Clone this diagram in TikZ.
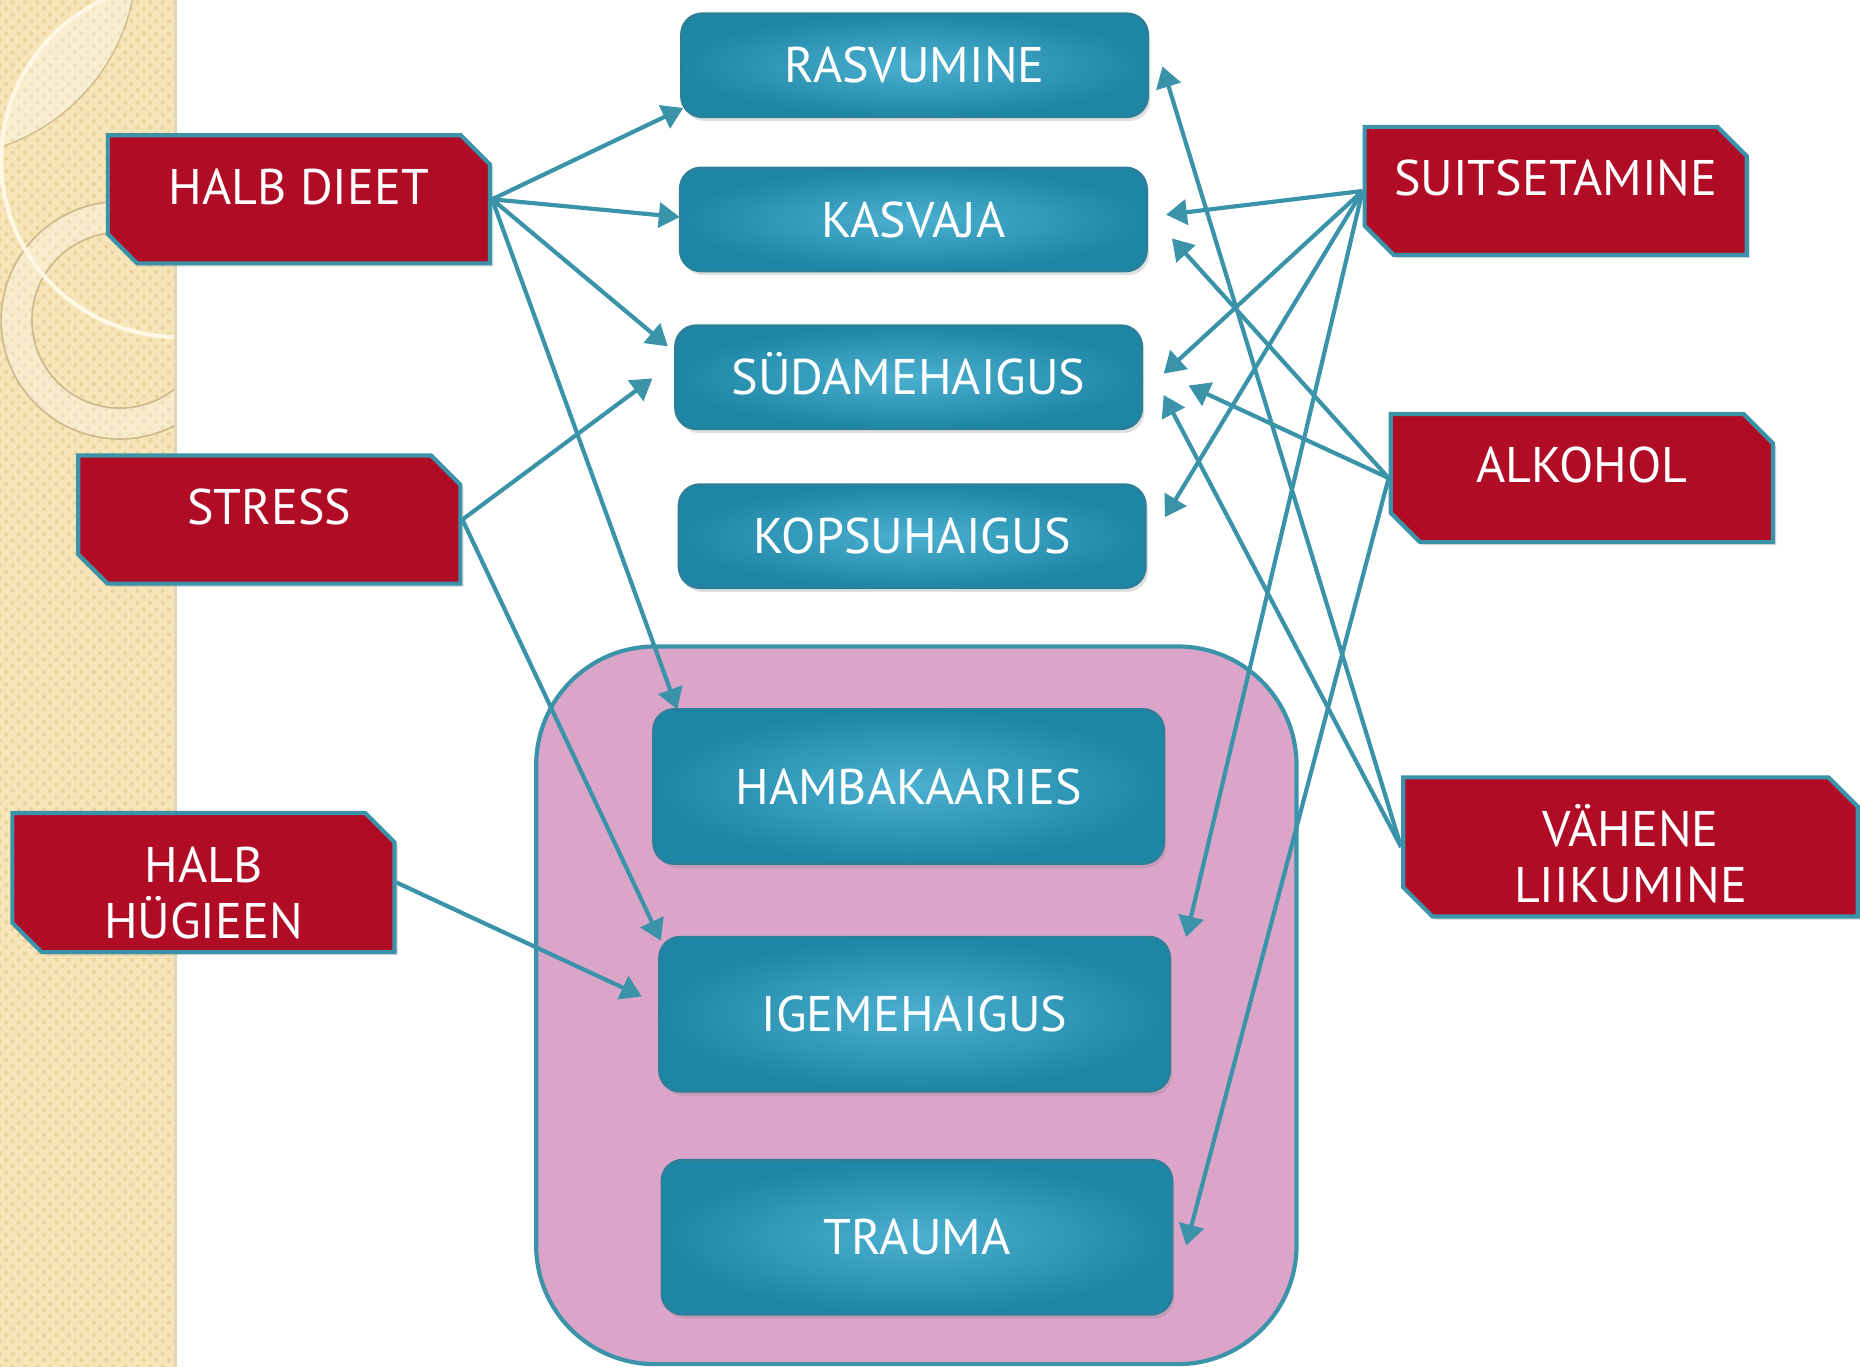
\documentclass[tikz,border=0pt]{standalone}
\usepackage{fontspec}
\setmainfont{PT Sans}
\usepackage{tikz}
\usetikzlibrary{arrows.meta,shapes.misc,shadows,patterns}

\definecolor{tealline}{HTML}{3A93A9}
\definecolor{tealedge}{HTML}{2C7F99}
\definecolor{tealmid}{HTML}{4CB0D0}
\definecolor{tealdark}{HTML}{1D86A4}
\definecolor{redbox}{HTML}{B10C26}
\definecolor{pinkbox}{HTML}{DBA5C9}
\definecolor{stripbg}{HTML}{F6E5B8}
\definecolor{stripdot}{HTML}{EAD39C}
\definecolor{stripline}{HTML}{CDB98C}
\definecolor{cream}{HTML}{FFF8E4}

\tikzset{
  disease/.style={rectangle, rounded corners=5pt, draw=tealedge, line width=0.6pt,
    inner color=tealmid, outer color=tealdark, text=white,
    font=\fontsize{12}{14}\selectfont, text height=8.5pt, text depth=0pt,
    minimum width=3.93cm, minimum height=0.87cm,
    drop shadow={opacity=0.25, shadow xshift=0.6pt, shadow yshift=-1pt}},
  bigbox/.style={minimum width=4.3cm, minimum height=1.3cm},
  cause/.style={chamfered rectangle, chamfered rectangle corners={north east,south west},
    chamfered rectangle xsep=3.7pt, fill=redbox, draw=tealline, line width=1pt,
    text=white, font=\fontsize{12}{13.4}\selectfont, inner sep=0pt,
    text height=9pt, text depth=6.7pt,
    minimum width=3.22cm, minimum height=1.08cm,
    drop shadow={opacity=0.25, shadow xshift=0.8pt, shadow yshift=-0.8pt}},
  twoline/.style={align=center, text height=26.7pt, text depth=-5.7pt},
  link/.style={draw=tealline, line width=1pt, -{Triangle[length=5pt,width=6pt]}}
}

\begin{document}
\begin{tikzpicture}[x=0.01cm,y=-0.01cm]
  \useasboundingbox (0,0) rectangle (1568,1152);

  % left strip
  \fill[stripbg] (0,0) rectangle (148,1152);
  \fill[pattern=crosshatch dots, pattern color=stripdot] (0,0) rectangle (148,1152);
  \begin{scope}
    \clip (0,0) rectangle (148,1152);
    \begin{scope}
      \clip (150,135) circle[radius=1.49cm];
      \fill[white, opacity=0.35] (-51,-34) circle[radius=1.66cm];
    \end{scope}
    \draw[stripline, line width=0.3pt] (-51,-34) circle[radius=1.66cm];
    \fill[white, opacity=0.3, even odd rule] (101,270) circle[radius=1cm] (101,270) circle[radius=0.74cm];
    \draw[stripline, line width=0.4pt] (101,270) circle[radius=1cm] (101,270) circle[radius=0.74cm];
    \draw[cream, line width=1pt] (150,135) circle[radius=1.49cm];
  \end{scope}
  \draw[stripline!60, line width=0.6pt] (148,0) -- (148,1152);

  \draw[tealline, line width=1pt, fill=pinkbox, rounded corners=1cm] (452,545) rectangle (1093,1150);

  \node[disease] (RAS) at (771,55) {RASVUMINE};
  \node[disease] (KAS) at (770,185) {KASVAJA};
  \node[disease] (SYD) at (766,318) {SÜDAMEHAIGUS};
  \node[disease] (KOP) at (769,452) {KOPSUHAIGUS};
  \node[disease,bigbox] (HAM) at (766,663) {HAMBAKAARIES};
  \node[disease,bigbox] (IGE) at (771,855) {IGEMEHAIGUS};
  \node[disease,bigbox] (TRA) at (773,1043) {TRAUMA};

  \node[cause] (DIE) at (252,168) {HALB DIEET};
  \node[cause] (STR) at (227,438) {STRESS};
  \node[cause,twoline] (HYG) at (171.5,744) {HALB\\HÜGIEEN};
  \node[cause] (SUI) at (1311.5,161) {SUITSETAMINE};
  \node[cause] (ALK) at (1333.5,403) {ALKOHOL};
  \node[cause,twoline,minimum width=3.83cm] (VAH) at (1374.5,714) {VÄHENE\\LIIKUMINE};

  \coordinate (rasL) at (576,91);   \coordinate (kasL) at (573,183);
  \coordinate (sydL1) at (563,292); \coordinate (sydL2) at (550,319);
  \coordinate (hamT) at (571,598);
  \coordinate (igeL1) at (557,793); \coordinate (igeL2) at (541,840);
  \coordinate (rasR) at (980,56);
  \coordinate (kasR1) at (983,181); \coordinate (kasR2) at (988,201);
  \coordinate (sydR1) at (981,315); \coordinate (sydR2) at (1002,325);
  \coordinate (sydR3) at (981,333);
  \coordinate (kopR) at (982,436);
  \coordinate (igeR) at (1000,790); \coordinate (traR) at (1000,1050);

  \draw[link] (DIE.east) -- (rasL);
  \draw[link] (DIE.east) -- (kasL);
  \draw[link] (DIE.east) -- (sydL1);
  \draw[link] (DIE.east) -- (hamT);
  \draw[link] (STR.east) -- (sydL2);
  \draw[link] (STR.east) -- (igeL1);
  \draw[link] (HYG.east) -- (igeL2);

  \draw[link] (SUI.west) -- (kasR1);
  \draw[link] (SUI.west) -- (sydR1);
  \draw[link] (SUI.west) -- (kopR);
  \draw[link] (SUI.west) -- (igeR);
  \draw[link] (ALK.west) -- (kasR2);
  \draw[link] (ALK.west) -- (sydR2);
  \draw[link] (ALK.west) -- (traR);
  \draw[link] (VAH.west) -- (rasR);
  \draw[link] (VAH.west) -- (sydR3);

\end{tikzpicture}
\end{document}
